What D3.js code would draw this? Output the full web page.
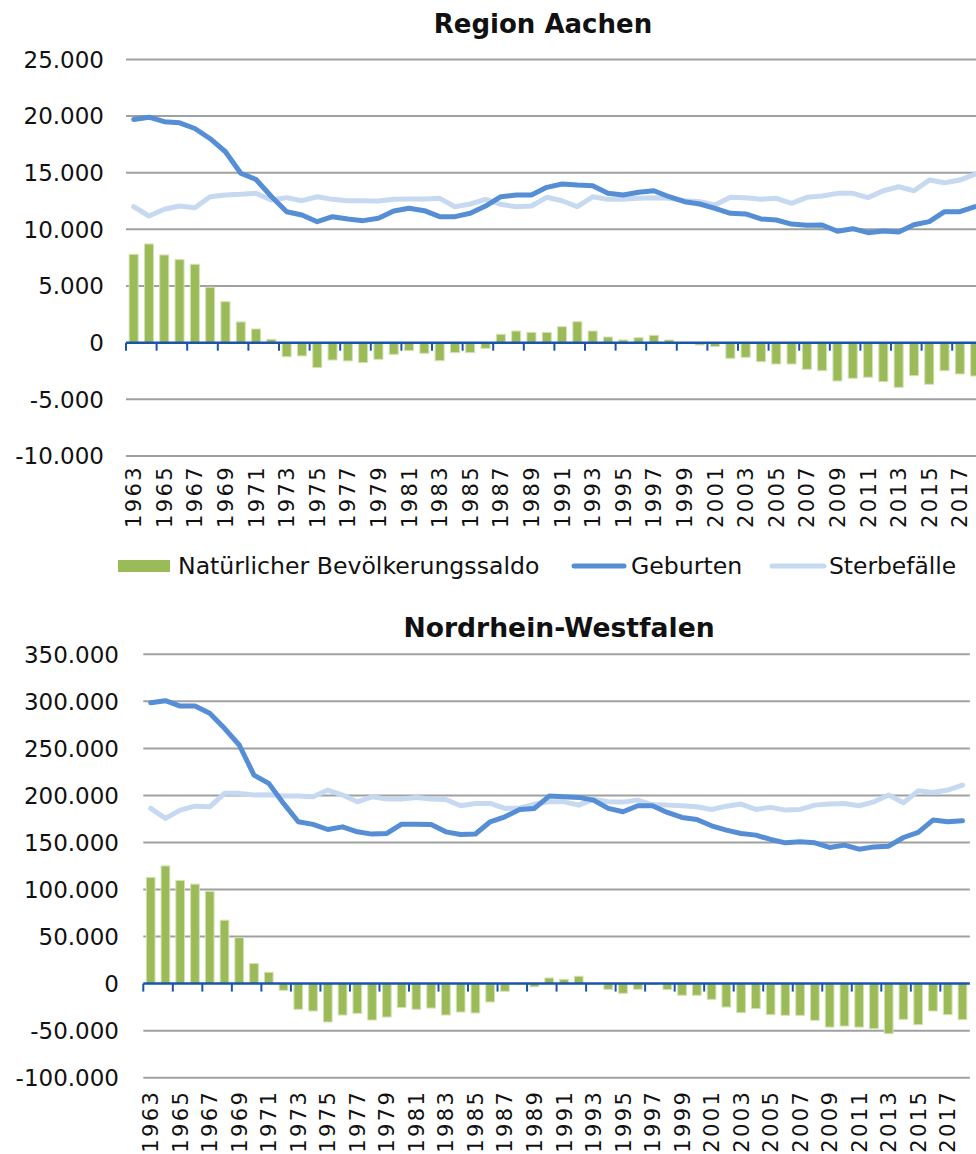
<!DOCTYPE html>
<html><head><meta charset="utf-8">
<script src="https://cdn.jsdelivr.net/npm/d3@7"></script>
<style>body{margin:0;background:#fff}svg{display:block}text{font-family:"DejaVu Sans",sans-serif;fill:#111}</style>
</head><body>
<svg id="c" width="976" height="1154"></svg>
<script>
const years = d3.range(1963, 2019);
const yTicksAachen = [-10000,-5000,0,5000,10000,15000,20000,25000];
const yTicksNRW = [-100000,-50000,0,50000,100000,150000,200000,250000,300000,350000];

const aachenSaldo = [7800,8710,7740,7330,6920,4890,3620,1830,1210,300,-1240,-1170,-2200,-1530,-1610,-1760,-1470,-1030,-700,-940,-1590,-880,-880,-500,740,1030,910,910,1410,1850,1030,500,240,440,650,240,-60,-200,-350,-1380,-1290,-1680,-1880,-1880,-2350,-2470,-3380,-3140,-3050,-3440,-3940,-2910,-3670,-2470,-2760,-2940];
const aachenGeburten = [19700,19900,19500,19400,18900,18000,16850,14950,14400,12900,11560,11270,10680,11120,10920,10770,10980,11620,11860,11650,11120,11120,11420,12060,12880,13030,13030,13710,14000,13910,13850,13180,13030,13270,13410,12880,12440,12240,11860,11420,11360,10920,10830,10470,10360,10390,9830,10060,9710,9860,9770,10410,10680,11560,11560,12000];
const aachenSterbefaelle = [12000,11180,11770,12060,11910,12880,13030,13090,13180,12590,12800,12530,12880,12650,12530,12530,12500,12650,12680,12680,12740,12000,12240,12650,12210,12000,12060,12830,12530,12000,12880,12650,12650,12740,12800,12740,12530,12440,12150,12830,12800,12650,12740,12300,12830,12940,13180,13180,12800,13410,13760,13410,14350,14120,14350,14880];

const nrwSaldo = [112800,125100,109600,105700,97900,67400,48900,21300,12000,-7100,-27300,-29100,-40800,-33400,-31600,-38700,-35500,-25500,-27300,-26000,-33400,-30200,-31200,-19500,-8200,-500,-3400,6000,4600,7800,-400,-6100,-10300,-6100,-600,-6400,-12400,-12400,-16700,-24900,-30900,-26600,-33000,-33700,-33700,-39000,-46200,-45100,-46200,-47900,-53200,-38000,-43600,-29100,-33000,-38300];
const nrwGeburten = [298600,300700,295000,295000,287300,271300,253600,221600,212800,191500,172000,169200,163800,166600,161300,158900,159600,169500,169500,169200,161300,158500,159000,172000,177300,185000,186200,199300,198500,197900,195000,186200,182600,189000,189000,181900,176600,174500,167700,163100,159600,157800,153200,149600,150700,149600,144700,147200,142900,145300,146100,155300,160700,173800,172000,173000];
const nrwSterbefaelle = [186200,175600,184400,188600,187900,202200,202200,200400,200800,199300,199300,198500,205700,200400,193200,198500,196100,196100,197900,196100,195700,189000,191500,191500,186200,186500,190800,193200,193200,189700,195800,193200,192900,195000,190000,189700,189000,187900,185100,188600,190800,185100,187300,184400,185100,189700,190800,191500,189000,193200,200400,192200,204900,203200,205700,211000];

const legendLabels = ["Natürlicher Bevölkerungssaldo","Geburten","Sterbefälle"];

const COL_BAR = "#9BBB59", COL_BAR_EDGE = "#d3e2b3", COL_GEB = "#558ED5", COL_STB = "#C6D9F1";
const COL_GRID = "#a0a0a0", COL_AXIS = "#1a55a8";

const loc = d3.formatLocale({decimal:",", thousands:".", grouping:[3], currency:["","€"], minus:"-"});
const fmt = loc.format(",d");

const svg = d3.select("#c");

function panel(o){
  const g = svg.append("g");
  const x = d3.scaleBand().domain(years).range([o.x0, o.x0 + years.length*o.step]).paddingInner(0.41).paddingOuter(0.205);
  const y = d3.scaleLinear().domain(o.domain).range([o.yb, o.yt]);
  const xr = o.x0 + years.length*o.step;
  g.append("text").attr("x", o.tx).attr("y", o.ty).attr("text-anchor","middle")
    .style("font-weight","bold").style("font-size", o.tsize).text(o.title);
  g.selectAll(".grid").data(o.ticks.filter(d=>d!==0)).join("line")
    .attr("x1", o.x0).attr("x2", xr).attr("y1", d=>y(d)).attr("y2", d=>y(d))
    .attr("stroke", COL_GRID).attr("stroke-width", 2);
  g.selectAll(".yl").data(o.ticks).join("text")
    .attr("x", o.lx).attr("y", d=>y(d)).attr("dy","0.36em").attr("text-anchor","end")
    .style("font-size","23px").text(d=>fmt(d));
  g.selectAll(".bar").data(years).join("rect")
    .attr("x", d=>x(d)).attr("width", x.bandwidth())
    .attr("y", (d,i)=>Math.min(y(o.saldo[i]), y(0)))
    .attr("height", (d,i)=>Math.abs(y(o.saldo[i]) - y(0)))
    .attr("fill", COL_BAR).attr("stroke", COL_BAR_EDGE).attr("stroke-width", 1);
  const step = x.step();
  g.append("line").attr("x1", o.x0).attr("x2", xr).attr("y1", y(0)).attr("y2", y(0))
    .attr("stroke", COL_AXIS).attr("stroke-width", 2.5);
  const tickYears = years.filter((d,i)=>i%2===0);
  g.selectAll(".tk").data(tickYears).join("line")
    .attr("x1", d=>x(d) - step*0.205).attr("x2", d=>x(d) - step*0.205)
    .attr("y1", y(0)).attr("y2", y(0)+8)
    .attr("stroke", COL_AXIS).attr("stroke-width", 2);
  const line = arr => d3.line().x((d,i)=>x(years[i]) + x.bandwidth()/2).y(d=>y(d))(arr);
  g.append("path").attr("d", line(o.stb)).attr("fill","none").attr("stroke", COL_STB)
    .attr("stroke-width", 5).attr("stroke-linejoin","round").attr("stroke-linecap","round");
  g.append("path").attr("d", line(o.geb)).attr("fill","none").attr("stroke", COL_GEB)
    .attr("stroke-width", 5).attr("stroke-linejoin","round").attr("stroke-linecap","round");
  g.selectAll(".xl").data(tickYears).join("text")
    .attr("transform", d=>`translate(${x(d)+x.bandwidth()/2},${o.yb + o.xlOff}) rotate(-90)`)
    .attr("dy","0.36em").attr("text-anchor","end")
    .style("font-size","21px").style("letter-spacing","2.4px").text(d=>d);
}

panel({title:"Region Aachen", tx:543, ty:33, tsize:"26px", x0:126, step:15.3, domain:[-10000,25000], yb:456, yt:59.4,
  ticks:yTicksAachen, lx:104, saldo:aachenSaldo, geb:aachenGeburten, stb:aachenSterbefaelle, xlOff:9});
panel({title:"Nordrhein-Westfalen", tx:559, ty:637, tsize:"26.6px", x0:143.3, step:14.76, domain:[-100000,350000], yb:1077.7, yt:654.3,
  ticks:yTicksNRW, lx:119, saldo:nrwSaldo, geb:nrwGeburten, stb:nrwSterbefaelle, xlOff:12});

const lg = svg.append("g");
const ly = 566;
lg.append("rect").attr("x",118).attr("y",ly-6).attr("width",52).attr("height",12).attr("fill",COL_BAR);
lg.append("text").attr("x",178).attr("y",ly).attr("dy","0.36em").style("font-size","23.6px").text(legendLabels[0]);
lg.append("line").attr("x1",574).attr("x2",624).attr("y1",ly).attr("y2",ly).attr("stroke",COL_GEB).attr("stroke-width",5).attr("stroke-linecap","round");
lg.append("text").attr("x",631).attr("y",ly).attr("dy","0.36em").style("font-size","23.6px").text(legendLabels[1]);
lg.append("line").attr("x1",772).attr("x2",824).attr("y1",ly).attr("y2",ly).attr("stroke",COL_STB).attr("stroke-width",5).attr("stroke-linecap","round");
lg.append("text").attr("x",829).attr("y",ly).attr("dy","0.36em").style("font-size","23.4px").text(legendLabels[2]);
</script>
</body></html>
